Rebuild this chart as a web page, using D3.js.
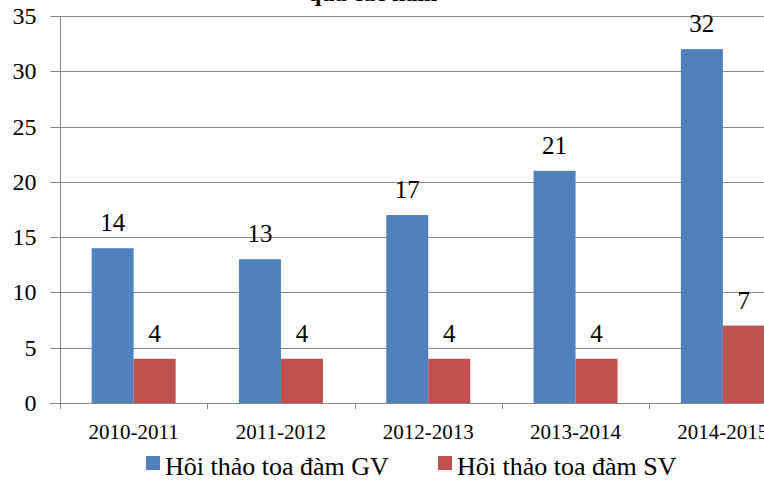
<!DOCTYPE html>
<html><head><meta charset="utf-8">
<script src="https://cdn.jsdelivr.net/npm/d3@7"></script>
<style>body{margin:0;background:#fff}svg{display:block}svg text{font-family:"Liberation Serif","Times New Roman",serif !important}</style>
</head><body>
<svg id="c" width="764" height="489"></svg>
<script>
const categories = ["2010-2011","2011-2012","2012-2013","2013-2014","2014-2015"];
const seriesNames = ["Hôi thảo toa đàm GV","Hôi thảo toa đàm SV"];
const gvValues = [14,13,17,21,32];
const svValues = [4,4,4,4,7];
const yTicks = [0,5,10,15,20,25,30,35];
const colors = ["#4f81bd","#c0504d"];
const titleText = "qua các năm";

const svg = d3.select("#c");
const font = "Liberation Serif";
const x0 = 60, x1 = 796.5, yTop = 16, yBot = 403;

const x = d3.scaleBand().domain(categories).range([x0, x1]).padding(0);
const xs = d3.scaleBand().domain([0,1]).range([0, x.bandwidth()]).paddingInner(0).paddingOuter(0.754);
const y = d3.scaleLinear().domain([0,35]).range([yBot, yTop]);

// title (cut off at top)
svg.append("text").attr("x",308).attr("y",1).attr("font-family",font).attr("font-weight","bold")
  .attr("font-size",24).text(titleText);

// gridlines
svg.append("g").selectAll("line").data(yTicks.filter(d=>d>0)).join("line")
  .attr("x1",x0).attr("x2",764).attr("y1",d=>Math.round(y(d))+0.5).attr("y2",d=>Math.round(y(d))+0.5)
  .attr("stroke","#8c8c8c").attr("stroke-width",1);

// y axis
const yAxis = d3.axisLeft(y).tickValues(yTicks).tickSize(10).tickPadding(14).tickFormat(d3.format("d"));
const gy = svg.append("g").attr("transform",`translate(${x0+0.5},0)`).call(yAxis).attr("font-family",font);
gy.select(".domain").attr("stroke","#868686").attr("d",`M0,${yTop}V${yBot+6}`);
gy.selectAll(".tick line").attr("stroke","#868686");
gy.selectAll(".tick text").attr("font-family",font).attr("font-size",24).attr("fill","#000").attr("dy","0.33em");
gy.selectAll(".tick").attr("transform",d=>`translate(0,${Math.round(y(d))+0.5})`);

// bars
const data = categories.map((c,i)=>({c, vals:[gvValues[i], svValues[i]]}));
const groups = svg.append("g").selectAll("g").data(data).join("g")
  .attr("transform",d=>`translate(${x(d.c)},0)`);
groups.selectAll("rect").data(d=>d.vals.map((v,k)=>({v,k}))).join("rect")
  .attr("x",d=>xs(d.k)).attr("width",xs.bandwidth())
  .attr("y",d=>y(d.v)).attr("height",d=>y(0)-y(d.v)).attr("fill",d=>colors[d.k]);
groups.selectAll("text").data(d=>d.vals.map((v,k)=>({v,k}))).join("text")
  .attr("x",d=>xs(d.k)+xs.bandwidth()/2).attr("y",d=>y(d.v)-17)
  .attr("text-anchor","middle").attr("font-family",font).attr("font-size",25).attr("fill","#000")
  .text(d=>d.v);

// x axis
const xAxis = d3.axisBottom(x).tickSize(0).tickPadding(0);
const gx = svg.append("g").attr("transform",`translate(0,${yBot+0.5})`).call(xAxis).attr("font-family",font);
gx.select(".domain").attr("stroke","#868686").attr("d",`M${x0-10},0H764`);
gx.selectAll(".tick text").attr("font-family",font).attr("font-size",21).attr("fill","#000")
  .attr("y",35).attr("dy",0);
// category boundary ticks
svg.append("g").selectAll("line").data(categories).join("line")
  .attr("x1",d=>Math.round(x(d))+0.5).attr("x2",d=>Math.round(x(d))+0.5)
  .attr("y1",yBot).attr("y2",yBot+6).attr("stroke","#868686");

// legend
const legX = [146, 438];
const leg = svg.append("g").selectAll("g").data(seriesNames).join("g")
  .attr("transform",(d,i)=>`translate(${legX[i]},0)`);
leg.append("rect").attr("x",0).attr("y",456).attr("width",14).attr("height",14).attr("fill",(d,i)=>colors[i]);
leg.append("text").attr("x",19).attr("y",475).attr("font-family",font).attr("font-size",26)
  .attr("fill","#000").text(d=>d);
</script>
</body></html>
